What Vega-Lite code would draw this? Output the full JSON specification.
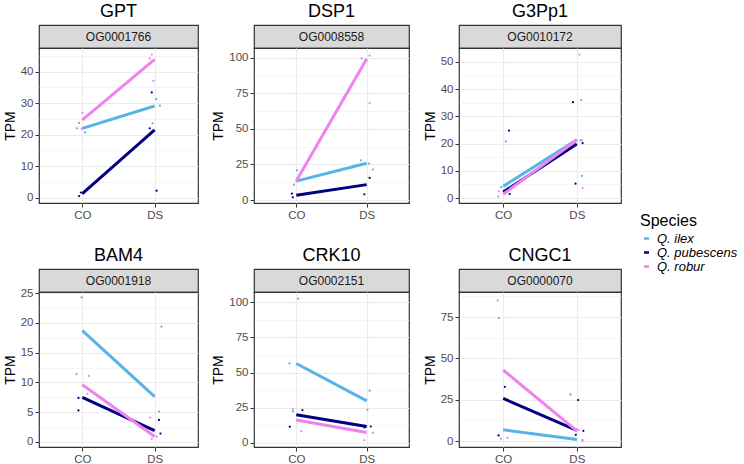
{
  "$schema": "https://vega.github.io/schema/vega-lite/v6.json",
  "background": "white",
  "padding": {"left": 2, "top": 2, "right": 5, "bottom": 5},
  "datasets": {
    "points": [
      {"gene": "GPT", "species": "Q. ilex", "condition": "CO", "tpm": 23.7, "jitter": -0.045},
      {"gene": "GPT", "species": "Q. ilex", "condition": "CO", "tpm": 22.0, "jitter": -0.077},
      {"gene": "GPT", "species": "Q. ilex", "condition": "CO", "tpm": 20.7, "jitter": 0.036},
      {"gene": "GPT", "species": "Q. pubescens", "condition": "CO", "tpm": 0.5, "jitter": -0.045},
      {"gene": "GPT", "species": "Q. pubescens", "condition": "CO", "tpm": 1.6, "jitter": -0.02},
      {"gene": "GPT", "species": "Q. pubescens", "condition": "CO", "tpm": 1.4, "jitter": 0.014},
      {"gene": "GPT", "species": "Q. robur", "condition": "CO", "tpm": 26.9, "jitter": 0.0},
      {"gene": "GPT", "species": "Q. robur", "condition": "CO", "tpm": 21.9, "jitter": -0.01},
      {"gene": "GPT", "species": "Q. robur", "condition": "CO", "tpm": 25.3, "jitter": 0.02},
      {"gene": "GPT", "species": "Q. ilex", "condition": "DS", "tpm": 31.3, "jitter": 0.023},
      {"gene": "GPT", "species": "Q. ilex", "condition": "DS", "tpm": 29.2, "jitter": 0.073},
      {"gene": "GPT", "species": "Q. ilex", "condition": "DS", "tpm": 23.6, "jitter": -0.03},
      {"gene": "GPT", "species": "Q. pubescens", "condition": "DS", "tpm": 33.4, "jitter": -0.04},
      {"gene": "GPT", "species": "Q. pubescens", "condition": "DS", "tpm": 22.0, "jitter": -0.068},
      {"gene": "GPT", "species": "Q. pubescens", "condition": "DS", "tpm": 2.2, "jitter": 0.027},
      {"gene": "GPT", "species": "Q. robur", "condition": "DS", "tpm": 45.4, "jitter": -0.04},
      {"gene": "GPT", "species": "Q. robur", "condition": "DS", "tpm": 44.2, "jitter": -0.068},
      {"gene": "GPT", "species": "Q. robur", "condition": "DS", "tpm": 37.1, "jitter": -0.018},

      {"gene": "DSP1", "species": "Q. ilex", "condition": "CO", "tpm": 20.9, "jitter": 0.01},
      {"gene": "DSP1", "species": "Q. ilex", "condition": "CO", "tpm": 10.8, "jitter": -0.03},
      {"gene": "DSP1", "species": "Q. pubescens", "condition": "CO", "tpm": 4.5, "jitter": -0.06},
      {"gene": "DSP1", "species": "Q. pubescens", "condition": "CO", "tpm": 1.9, "jitter": -0.047},
      {"gene": "DSP1", "species": "Q. robur", "condition": "CO", "tpm": 13.5, "jitter": 0.0},
      {"gene": "DSP1", "species": "Q. ilex", "condition": "DS", "tpm": 27.9, "jitter": -0.08},
      {"gene": "DSP1", "species": "Q. ilex", "condition": "DS", "tpm": 25.6, "jitter": 0.033},
      {"gene": "DSP1", "species": "Q. ilex", "condition": "DS", "tpm": 21.4, "jitter": 0.085},
      {"gene": "DSP1", "species": "Q. pubescens", "condition": "DS", "tpm": 15.5, "jitter": 0.04},
      {"gene": "DSP1", "species": "Q. pubescens", "condition": "DS", "tpm": 4.0, "jitter": -0.033},
      {"gene": "DSP1", "species": "Q. robur", "condition": "DS", "tpm": 99.5, "jitter": -0.07},
      {"gene": "DSP1", "species": "Q. robur", "condition": "DS", "tpm": 101.4, "jitter": 0.04},
      {"gene": "DSP1", "species": "Q. robur", "condition": "DS", "tpm": 68.1, "jitter": 0.04},

      {"gene": "G3Pp1", "species": "Q. pubescens", "condition": "CO", "tpm": 24.8, "jitter": 0.08},
      {"gene": "G3Pp1", "species": "Q. pubescens", "condition": "CO", "tpm": 1.5, "jitter": 0.09},
      {"gene": "G3Pp1", "species": "Q. ilex", "condition": "CO", "tpm": 20.8, "jitter": 0.036},
      {"gene": "G3Pp1", "species": "Q. ilex", "condition": "CO", "tpm": 4.0, "jitter": -0.03},
      {"gene": "G3Pp1", "species": "Q. robur", "condition": "CO", "tpm": 2.5, "jitter": -0.06},
      {"gene": "G3Pp1", "species": "Q. robur", "condition": "CO", "tpm": 0.6, "jitter": -0.068},
      {"gene": "G3Pp1", "species": "Q. robur", "condition": "DS", "tpm": 52.7, "jitter": 0.036},
      {"gene": "G3Pp1", "species": "Q. robur", "condition": "DS", "tpm": 21.2, "jitter": 0.07},
      {"gene": "G3Pp1", "species": "Q. robur", "condition": "DS", "tpm": 3.7, "jitter": 0.08},
      {"gene": "G3Pp1", "species": "Q. ilex", "condition": "DS", "tpm": 36.0, "jitter": 0.06},
      {"gene": "G3Pp1", "species": "Q. ilex", "condition": "DS", "tpm": 8.2, "jitter": 0.07},
      {"gene": "G3Pp1", "species": "Q. ilex", "condition": "DS", "tpm": 21.2, "jitter": 0.05},
      {"gene": "G3Pp1", "species": "Q. pubescens", "condition": "DS", "tpm": 35.2, "jitter": -0.054},
      {"gene": "G3Pp1", "species": "Q. pubescens", "condition": "DS", "tpm": 5.3, "jitter": -0.018},
      {"gene": "G3Pp1", "species": "Q. pubescens", "condition": "DS", "tpm": 20.2, "jitter": 0.08},

      {"gene": "BAM4", "species": "Q. ilex", "condition": "CO", "tpm": 24.3, "jitter": -0.01},
      {"gene": "BAM4", "species": "Q. ilex", "condition": "CO", "tpm": 11.4, "jitter": -0.08},
      {"gene": "BAM4", "species": "Q. robur", "condition": "CO", "tpm": 11.1, "jitter": 0.09},
      {"gene": "BAM4", "species": "Q. robur", "condition": "CO", "tpm": 8.1, "jitter": 0.07},
      {"gene": "BAM4", "species": "Q. pubescens", "condition": "CO", "tpm": 7.4, "jitter": -0.054},
      {"gene": "BAM4", "species": "Q. pubescens", "condition": "CO", "tpm": 5.3, "jitter": -0.054},
      {"gene": "BAM4", "species": "Q. ilex", "condition": "DS", "tpm": 19.4, "jitter": 0.095},
      {"gene": "BAM4", "species": "Q. ilex", "condition": "DS", "tpm": 5.1, "jitter": 0.06},
      {"gene": "BAM4", "species": "Q. pubescens", "condition": "DS", "tpm": 3.7, "jitter": 0.06},
      {"gene": "BAM4", "species": "Q. pubescens", "condition": "DS", "tpm": 1.4, "jitter": 0.08},
      {"gene": "BAM4", "species": "Q. robur", "condition": "DS", "tpm": 4.1, "jitter": -0.063},
      {"gene": "BAM4", "species": "Q. robur", "condition": "DS", "tpm": 0.5, "jitter": -0.04},
      {"gene": "BAM4", "species": "Q. robur", "condition": "DS", "tpm": 0.9, "jitter": 0.03},

      {"gene": "CRK10", "species": "Q. ilex", "condition": "CO", "tpm": 102.6, "jitter": 0.028},
      {"gene": "CRK10", "species": "Q. ilex", "condition": "CO", "tpm": 56.5, "jitter": -0.094},
      {"gene": "CRK10", "species": "Q. ilex", "condition": "CO", "tpm": 22.3, "jitter": -0.047},
      {"gene": "CRK10", "species": "Q. robur", "condition": "CO", "tpm": 24.2, "jitter": -0.047},
      {"gene": "CRK10", "species": "Q. robur", "condition": "CO", "tpm": 8.3, "jitter": 0.07},
      {"gene": "CRK10", "species": "Q. pubescens", "condition": "CO", "tpm": 11.4, "jitter": -0.09},
      {"gene": "CRK10", "species": "Q. pubescens", "condition": "CO", "tpm": 23.3, "jitter": 0.085},
      {"gene": "CRK10", "species": "Q. ilex", "condition": "DS", "tpm": 37.1, "jitter": 0.042},
      {"gene": "CRK10", "species": "Q. ilex", "condition": "DS", "tpm": 23.5, "jitter": 0.01},
      {"gene": "CRK10", "species": "Q. pubescens", "condition": "DS", "tpm": 11.6, "jitter": 0.056},
      {"gene": "CRK10", "species": "Q. pubescens", "condition": "DS", "tpm": 10.9, "jitter": -0.03},
      {"gene": "CRK10", "species": "Q. robur", "condition": "DS", "tpm": 1.9, "jitter": -0.035},
      {"gene": "CRK10", "species": "Q. robur", "condition": "DS", "tpm": 7.1, "jitter": 0.085},

      {"gene": "CNGC1", "species": "Q. robur", "condition": "CO", "tpm": 85.0, "jitter": -0.077},
      {"gene": "CNGC1", "species": "Q. robur", "condition": "CO", "tpm": 1.4, "jitter": -0.03},
      {"gene": "CNGC1", "species": "Q. ilex", "condition": "CO", "tpm": 74.4, "jitter": -0.06},
      {"gene": "CNGC1", "species": "Q. ilex", "condition": "CO", "tpm": 2.0, "jitter": 0.06},
      {"gene": "CNGC1", "species": "Q. pubescens", "condition": "CO", "tpm": 32.8, "jitter": 0.023},
      {"gene": "CNGC1", "species": "Q. pubescens", "condition": "CO", "tpm": 3.4, "jitter": -0.064},
      {"gene": "CNGC1", "species": "Q. ilex", "condition": "DS", "tpm": 28.2, "jitter": -0.086},
      {"gene": "CNGC1", "species": "Q. ilex", "condition": "DS", "tpm": 0.6, "jitter": 0.077},
      {"gene": "CNGC1", "species": "Q. pubescens", "condition": "DS", "tpm": 24.8, "jitter": 0.018},
      {"gene": "CNGC1", "species": "Q. pubescens", "condition": "DS", "tpm": 3.8, "jitter": -0.014},
      {"gene": "CNGC1", "species": "Q. pubescens", "condition": "DS", "tpm": 6.2, "jitter": 0.09},
      {"gene": "CNGC1", "species": "Q. robur", "condition": "DS", "tpm": 6.8, "jitter": 0.023},
      {"gene": "CNGC1", "species": "Q. robur", "condition": "DS", "tpm": 0.2, "jitter": 0.08}
    ],
    "means": [
      {"gene": "GPT", "species": "Q. ilex", "condition": "CO", "tpm": 22.0},
      {"gene": "GPT", "species": "Q. ilex", "condition": "DS", "tpm": 29.1},
      {"gene": "GPT", "species": "Q. pubescens", "condition": "CO", "tpm": 1.3},
      {"gene": "GPT", "species": "Q. pubescens", "condition": "DS", "tpm": 21.5},
      {"gene": "GPT", "species": "Q. robur", "condition": "CO", "tpm": 24.7},
      {"gene": "GPT", "species": "Q. robur", "condition": "DS", "tpm": 43.9},
      {"gene": "DSP1", "species": "Q. ilex", "condition": "CO", "tpm": 13.3},
      {"gene": "DSP1", "species": "Q. ilex", "condition": "DS", "tpm": 25.8},
      {"gene": "DSP1", "species": "Q. pubescens", "condition": "CO", "tpm": 3.3},
      {"gene": "DSP1", "species": "Q. pubescens", "condition": "DS", "tpm": 10.8},
      {"gene": "DSP1", "species": "Q. robur", "condition": "CO", "tpm": 13.3},
      {"gene": "DSP1", "species": "Q. robur", "condition": "DS", "tpm": 99.3},
      {"gene": "G3Pp1", "species": "Q. ilex", "condition": "CO", "tpm": 4.3},
      {"gene": "G3Pp1", "species": "Q. ilex", "condition": "DS", "tpm": 21.4},
      {"gene": "G3Pp1", "species": "Q. pubescens", "condition": "CO", "tpm": 2.2},
      {"gene": "G3Pp1", "species": "Q. pubescens", "condition": "DS", "tpm": 19.9},
      {"gene": "G3Pp1", "species": "Q. robur", "condition": "CO", "tpm": 1.4},
      {"gene": "G3Pp1", "species": "Q. robur", "condition": "DS", "tpm": 21.3},
      {"gene": "BAM4", "species": "Q. ilex", "condition": "CO", "tpm": 18.7},
      {"gene": "BAM4", "species": "Q. ilex", "condition": "DS", "tpm": 7.6},
      {"gene": "BAM4", "species": "Q. pubescens", "condition": "CO", "tpm": 7.5},
      {"gene": "BAM4", "species": "Q. pubescens", "condition": "DS", "tpm": 1.9},
      {"gene": "BAM4", "species": "Q. robur", "condition": "CO", "tpm": 9.6},
      {"gene": "BAM4", "species": "Q. robur", "condition": "DS", "tpm": 0.9},
      {"gene": "CRK10", "species": "Q. ilex", "condition": "CO", "tpm": 56.5},
      {"gene": "CRK10", "species": "Q. ilex", "condition": "DS", "tpm": 29.9},
      {"gene": "CRK10", "species": "Q. pubescens", "condition": "CO", "tpm": 20.0},
      {"gene": "CRK10", "species": "Q. pubescens", "condition": "DS", "tpm": 11.6},
      {"gene": "CRK10", "species": "Q. robur", "condition": "CO", "tpm": 16.2},
      {"gene": "CRK10", "species": "Q. robur", "condition": "DS", "tpm": 7.4},
      {"gene": "CNGC1", "species": "Q. ilex", "condition": "CO", "tpm": 6.8},
      {"gene": "CNGC1", "species": "Q. ilex", "condition": "DS", "tpm": 1.0},
      {"gene": "CNGC1", "species": "Q. pubescens", "condition": "CO", "tpm": 25.8},
      {"gene": "CNGC1", "species": "Q. pubescens", "condition": "DS", "tpm": 6.4},
      {"gene": "CNGC1", "species": "Q. robur", "condition": "CO", "tpm": 43.0},
      {"gene": "CNGC1", "species": "Q. robur", "condition": "DS", "tpm": 6.2}
    ]
  },
  "columns": 3,
  "spacing": {"row": 24, "column": 12},
  "resolve": {"scale": {"y": "independent"}},
  "concat": [
    {
      "bounds": "flush", "spacing": 0,
      "vconcat": [
        {"title": {"text": "GPT", "anchor": "middle", "frame": "group"}, "width": 159, "height": 23, "data": {"values": [{"og": "OG0001766"}]}, "view": {"fill": "#d9d9d9", "stroke": "#333333", "strokeWidth": 1.2},
         "mark": {"type": "text", "fontSize": 12, "color": "#1a1a1a"}, "encoding": {"text": {"field": "og", "type": "nominal"}}},
        {"width": 159, "height": 155, "view": {"stroke": "#333333", "strokeWidth": 1.2}, "resolve": {"axis": {"y": "independent"}},
         "layer": [
          {"data": {"name": "means"}, "transform": [{"filter": "datum.gene === 'GPT'"}], "mark": {"type": "line", "strokeWidth": 3},
           "encoding": {
             "x": {"field": "condition", "type": "ordinal", "scale": {"type": "point", "domain": ["CO", "DS"], "padding": 0.6}, "axis": {"title": null, "labelAngle": 0, "grid": true}},
             "y": {"field": "tpm", "type": "quantitative", "scale": {"domain": [-1.7, 47.5], "nice": false, "zero": false}, "axis": {"title": "TPM", "values": [0, 10, 20, 30, 40], "grid": true}},
             "color": {"field": "species", "type": "nominal", "scale": {"domain": ["Q. ilex", "Q. pubescens", "Q. robur"], "range": ["#56B4E9", "#000080", "#EE82EE"]}, "legend": {"symbolType": "stroke", "title": "Species", "rowPadding": -3}}}},
          {"data": {"name": "points"}, "transform": [{"filter": "datum.gene === 'GPT'"}], "mark": {"type": "circle", "size": 5, "opacity": 1},
           "encoding": {
             "x": {"field": "condition", "type": "ordinal", "axis": {"title": null, "labelAngle": 0, "grid": true}},
             "xOffset": {"field": "jitter", "type": "quantitative", "scale": {"domain": [-1, 1], "range": [-72.3, 72.3]}},
             "y": {"field": "tpm", "type": "quantitative", "axis": {"orient": "right", "values": [5, 15, 25, 35, 45], "grid": true, "gridWidth": 0.5, "labels": false, "ticks": false, "title": null}},
             "color": {"field": "species", "type": "nominal", "legend": null}}}
         ]}
      ]
    },
    {
      "bounds": "flush", "spacing": 0,
      "vconcat": [
        {"title": {"text": "DSP1", "anchor": "middle", "frame": "group"}, "width": 155, "height": 23, "data": {"values": [{"og": "OG0008558"}]}, "view": {"fill": "#d9d9d9", "stroke": "#333333", "strokeWidth": 1.2},
         "mark": {"type": "text", "fontSize": 12, "color": "#1a1a1a"}, "encoding": {"text": {"field": "og", "type": "nominal"}}},
        {"width": 155, "height": 155, "view": {"stroke": "#333333", "strokeWidth": 1.2}, "resolve": {"axis": {"y": "independent"}},
         "layer": [
          {"data": {"name": "means"}, "transform": [{"filter": "datum.gene === 'DSP1'"}], "mark": {"type": "line", "strokeWidth": 3},
           "encoding": {
             "x": {"field": "condition", "type": "ordinal", "scale": {"type": "point", "domain": ["CO", "DS"], "padding": 0.6}, "axis": {"title": null, "labelAngle": 0, "grid": true}},
             "y": {"field": "tpm", "type": "quantitative", "scale": {"domain": [-2.1, 106.8], "nice": false, "zero": false}, "axis": {"title": "TPM", "values": [0, 25, 50, 75, 100], "grid": true}},
             "color": {"field": "species", "type": "nominal", "scale": {"domain": ["Q. ilex", "Q. pubescens", "Q. robur"], "range": ["#56B4E9", "#000080", "#EE82EE"]}, "legend": {"symbolType": "stroke", "title": "Species", "rowPadding": -3}}}},
          {"data": {"name": "points"}, "transform": [{"filter": "datum.gene === 'DSP1'"}], "mark": {"type": "circle", "size": 5, "opacity": 1},
           "encoding": {
             "x": {"field": "condition", "type": "ordinal", "axis": {"title": null, "labelAngle": 0, "grid": true}},
             "xOffset": {"field": "jitter", "type": "quantitative", "scale": {"domain": [-1, 1], "range": [-70.5, 70.5]}},
             "y": {"field": "tpm", "type": "quantitative", "axis": {"orient": "right", "values": [12.5, 37.5, 62.5, 87.5], "grid": true, "gridWidth": 0.5, "labels": false, "ticks": false, "title": null}},
             "color": {"field": "species", "type": "nominal", "legend": null}}}
         ]}
      ]
    },
    {
      "bounds": "flush", "spacing": 0,
      "vconcat": [
        {"title": {"text": "G3Pp1", "anchor": "middle", "frame": "group"}, "width": 162, "height": 23, "data": {"values": [{"og": "OG0010172"}]}, "view": {"fill": "#d9d9d9", "stroke": "#333333", "strokeWidth": 1.2},
         "mark": {"type": "text", "fontSize": 12, "color": "#1a1a1a"}, "encoding": {"text": {"field": "og", "type": "nominal"}}},
        {"width": 162, "height": 155, "view": {"stroke": "#333333", "strokeWidth": 1.2}, "resolve": {"axis": {"y": "independent"}},
         "layer": [
          {"data": {"name": "means"}, "transform": [{"filter": "datum.gene === 'G3Pp1'"}], "mark": {"type": "line", "strokeWidth": 3},
           "encoding": {
             "x": {"field": "condition", "type": "ordinal", "scale": {"type": "point", "domain": ["CO", "DS"], "padding": 0.6}, "axis": {"title": null, "labelAngle": 0, "grid": true}},
             "y": {"field": "tpm", "type": "quantitative", "scale": {"domain": [-1.8, 55.1], "nice": false, "zero": false}, "axis": {"title": "TPM", "values": [0, 10, 20, 30, 40, 50], "grid": true}},
             "color": {"field": "species", "type": "nominal", "scale": {"domain": ["Q. ilex", "Q. pubescens", "Q. robur"], "range": ["#56B4E9", "#000080", "#EE82EE"]}, "legend": {"symbolType": "stroke", "title": "Species", "rowPadding": -3}}}},
          {"data": {"name": "points"}, "transform": [{"filter": "datum.gene === 'G3Pp1'"}], "mark": {"type": "circle", "size": 5, "opacity": 1},
           "encoding": {
             "x": {"field": "condition", "type": "ordinal", "axis": {"title": null, "labelAngle": 0, "grid": true}},
             "xOffset": {"field": "jitter", "type": "quantitative", "scale": {"domain": [-1, 1], "range": [-73.6, 73.6]}},
             "y": {"field": "tpm", "type": "quantitative", "axis": {"orient": "right", "values": [5, 15, 25, 35, 45], "grid": true, "gridWidth": 0.5, "labels": false, "ticks": false, "title": null}},
             "color": {"field": "species", "type": "nominal", "legend": null}}}
         ]}
      ]
    },
    {
      "bounds": "flush", "spacing": 0,
      "vconcat": [
        {"title": {"text": "BAM4", "anchor": "middle", "frame": "group"}, "width": 159, "height": 23, "data": {"values": [{"og": "OG0001918"}]}, "view": {"fill": "#d9d9d9", "stroke": "#333333", "strokeWidth": 1.2},
         "mark": {"type": "text", "fontSize": 12, "color": "#1a1a1a"}, "encoding": {"text": {"field": "og", "type": "nominal"}}},
        {"width": 159, "height": 155, "view": {"stroke": "#333333", "strokeWidth": 1.2}, "resolve": {"axis": {"y": "independent"}},
         "layer": [
          {"data": {"name": "means"}, "transform": [{"filter": "datum.gene === 'BAM4'"}], "mark": {"type": "line", "strokeWidth": 3},
           "encoding": {
             "x": {"field": "condition", "type": "ordinal", "scale": {"type": "point", "domain": ["CO", "DS"], "padding": 0.6}, "axis": {"title": null, "labelAngle": 0, "grid": true}},
             "y": {"field": "tpm", "type": "quantitative", "scale": {"domain": [-0.85, 25.2], "nice": false, "zero": false}, "axis": {"title": "TPM", "values": [0, 5, 10, 15, 20, 25], "grid": true}},
             "color": {"field": "species", "type": "nominal", "scale": {"domain": ["Q. ilex", "Q. pubescens", "Q. robur"], "range": ["#56B4E9", "#000080", "#EE82EE"]}, "legend": {"symbolType": "stroke", "title": "Species", "rowPadding": -3}}}},
          {"data": {"name": "points"}, "transform": [{"filter": "datum.gene === 'BAM4'"}], "mark": {"type": "circle", "size": 5, "opacity": 1},
           "encoding": {
             "x": {"field": "condition", "type": "ordinal", "axis": {"title": null, "labelAngle": 0, "grid": true}},
             "xOffset": {"field": "jitter", "type": "quantitative", "scale": {"domain": [-1, 1], "range": [-72.3, 72.3]}},
             "y": {"field": "tpm", "type": "quantitative", "axis": {"orient": "right", "values": [2.5, 7.5, 12.5, 17.5, 22.5], "grid": true, "gridWidth": 0.5, "labels": false, "ticks": false, "title": null}},
             "color": {"field": "species", "type": "nominal", "legend": null}}}
         ]}
      ]
    },
    {
      "bounds": "flush", "spacing": 0,
      "vconcat": [
        {"title": {"text": "CRK10", "anchor": "middle", "frame": "group"}, "width": 155, "height": 23, "data": {"values": [{"og": "OG0002151"}]}, "view": {"fill": "#d9d9d9", "stroke": "#333333", "strokeWidth": 1.2},
         "mark": {"type": "text", "fontSize": 12, "color": "#1a1a1a"}, "encoding": {"text": {"field": "og", "type": "nominal"}}},
        {"width": 155, "height": 155, "view": {"stroke": "#333333", "strokeWidth": 1.2}, "resolve": {"axis": {"y": "independent"}},
         "layer": [
          {"data": {"name": "means"}, "transform": [{"filter": "datum.gene === 'CRK10'"}], "mark": {"type": "line", "strokeWidth": 3},
           "encoding": {
             "x": {"field": "condition", "type": "ordinal", "scale": {"type": "point", "domain": ["CO", "DS"], "padding": 0.6}, "axis": {"title": null, "labelAngle": 0, "grid": true}},
             "y": {"field": "tpm", "type": "quantitative", "scale": {"domain": [-3.0, 107.4], "nice": false, "zero": false}, "axis": {"title": "TPM", "values": [0, 25, 50, 75, 100], "grid": true}},
             "color": {"field": "species", "type": "nominal", "scale": {"domain": ["Q. ilex", "Q. pubescens", "Q. robur"], "range": ["#56B4E9", "#000080", "#EE82EE"]}, "legend": {"symbolType": "stroke", "title": "Species", "rowPadding": -3}}}},
          {"data": {"name": "points"}, "transform": [{"filter": "datum.gene === 'CRK10'"}], "mark": {"type": "circle", "size": 5, "opacity": 1},
           "encoding": {
             "x": {"field": "condition", "type": "ordinal", "axis": {"title": null, "labelAngle": 0, "grid": true}},
             "xOffset": {"field": "jitter", "type": "quantitative", "scale": {"domain": [-1, 1], "range": [-70.5, 70.5]}},
             "y": {"field": "tpm", "type": "quantitative", "axis": {"orient": "right", "values": [12.5, 37.5, 62.5, 87.5], "grid": true, "gridWidth": 0.5, "labels": false, "ticks": false, "title": null}},
             "color": {"field": "species", "type": "nominal", "legend": null}}}
         ]}
      ]
    },
    {
      "bounds": "flush", "spacing": 0,
      "vconcat": [
        {"title": {"text": "CNGC1", "anchor": "middle", "frame": "group"}, "width": 162, "height": 23, "data": {"values": [{"og": "OG0000070"}]}, "view": {"fill": "#d9d9d9", "stroke": "#333333", "strokeWidth": 1.2},
         "mark": {"type": "text", "fontSize": 12, "color": "#1a1a1a"}, "encoding": {"text": {"field": "og", "type": "nominal"}}},
        {"width": 162, "height": 155, "view": {"stroke": "#333333", "strokeWidth": 1.2}, "resolve": {"axis": {"y": "independent"}},
         "layer": [
          {"data": {"name": "means"}, "transform": [{"filter": "datum.gene === 'CNGC1'"}], "mark": {"type": "line", "strokeWidth": 3},
           "encoding": {
             "x": {"field": "condition", "type": "ordinal", "scale": {"type": "point", "domain": ["CO", "DS"], "padding": 0.6}, "axis": {"title": null, "labelAngle": 0, "grid": true}},
             "y": {"field": "tpm", "type": "quantitative", "scale": {"domain": [-3.6, 90.2], "nice": false, "zero": false}, "axis": {"title": "TPM", "values": [0, 25, 50, 75], "grid": true}},
             "color": {"field": "species", "type": "nominal", "scale": {"domain": ["Q. ilex", "Q. pubescens", "Q. robur"], "range": ["#56B4E9", "#000080", "#EE82EE"]}, "legend": {"symbolType": "stroke", "title": "Species", "rowPadding": -3}}}},
          {"data": {"name": "points"}, "transform": [{"filter": "datum.gene === 'CNGC1'"}], "mark": {"type": "circle", "size": 5, "opacity": 1},
           "encoding": {
             "x": {"field": "condition", "type": "ordinal", "axis": {"title": null, "labelAngle": 0, "grid": true}},
             "xOffset": {"field": "jitter", "type": "quantitative", "scale": {"domain": [-1, 1], "range": [-73.6, 73.6]}},
             "y": {"field": "tpm", "type": "quantitative", "axis": {"orient": "right", "values": [12.5, 37.5, 62.5, 87.5], "grid": true, "gridWidth": 0.5, "labels": false, "ticks": false, "title": null}},
             "color": {"field": "species", "type": "nominal", "legend": null}}}
         ]}
      ]
    }
  ],
  "config": {
    "font": "Liberation Sans",
    "title": {"fontSize": 18, "fontWeight": "normal", "color": "black", "anchor": "middle", "frame": "group", "offset": 4},
    "axis": {"labelFontSize": 11.5, "labelColor": "#4d4d4d", "tickColor": "#333333", "tickSize": 4, "domain": false, "gridColor": "#ebebeb", "gridWidth": 1.1, "titleFontSize": 14, "titleFontWeight": "normal", "titleColor": "black", "labelPadding": 2, "titlePadding": 3},
    "legend": {"orient": "none", "legendX": 601, "legendY": 188, "titleFontSize": 16, "titleFontWeight": "normal", "titleColor": "black", "labelFontSize": 13, "labelFontStyle": "italic", "labelColor": "black", "symbolSize": 25, "symbolStrokeWidth": 2.5, "titlePadding": 3, "labelOffset": 4}
  }
}
